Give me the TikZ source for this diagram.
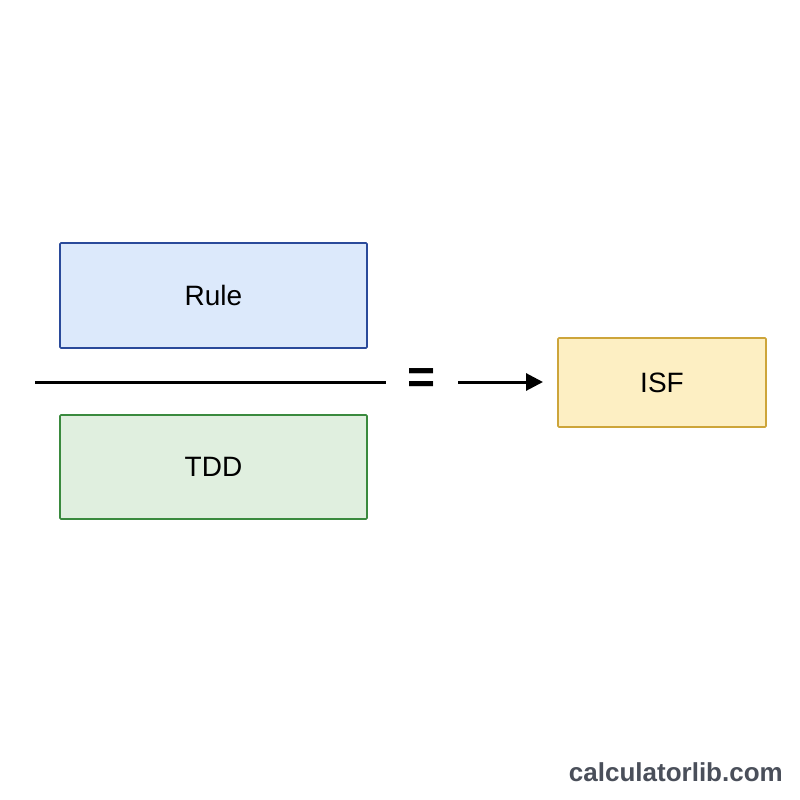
\documentclass[tikz,border=0pt]{standalone}
\usepackage{fontspec}
\setmainfont{Liberation Sans}
\usetikzlibrary{arrows.meta}
\definecolor{rulefill}{HTML}{DCE9FB}
\definecolor{ruledraw}{HTML}{2A4A9A}
\definecolor{tddfill}{HTML}{E0EFDF}
\definecolor{tdddraw}{HTML}{3A8A3E}
\definecolor{isffill}{HTML}{FDEFC3}
\definecolor{isfdraw}{HTML}{CDA53A}
\definecolor{wmark}{HTML}{4A4F5A}
\tikzset{
  box/.style={draw, line width=1.6pt, rounded corners=1pt, inner sep=0pt, font=\fontsize{28}{32}\selectfont, text=black},
}
\begin{document}
\begin{tikzpicture}[x=1pt,y=-1pt]
\useasboundingbox[fill=white] (0,0) rectangle (800,800);
\node[box, fill=rulefill, draw=ruledraw, minimum width=307pt, minimum height=105pt] (rule) at (213.5,295.5) {Rule};
\node[box, fill=tddfill, draw=tdddraw, minimum width=307pt, minimum height=104pt] (tdd) at (213.5,467) {TDD};
\node[box, fill=isffill, draw=isfdraw, minimum width=208pt, minimum height=89pt] (isf) at (662,382.5) {ISF};
\coordinate (fl) at (35,382);
\coordinate (fr) at (386,382);
\draw[line width=3pt] (fl) -- (fr);
\node[font=\fontsize{48}{48}\selectfont\bfseries, inner sep=0pt] (eq) at (422,381) {=};
\coordinate (as) at (458,382);
\coordinate (ae) at (543,382);
\draw[line width=3pt, -{Triangle[length=17pt,width=17pt]}] (as) -- (ae);
\node[font=\fontsize{26}{30}\selectfont\bfseries, text=wmark, anchor=east, inner sep=0pt] (wm) at (783,772) {calculatorlib.com};
\end{tikzpicture}
\end{document}
